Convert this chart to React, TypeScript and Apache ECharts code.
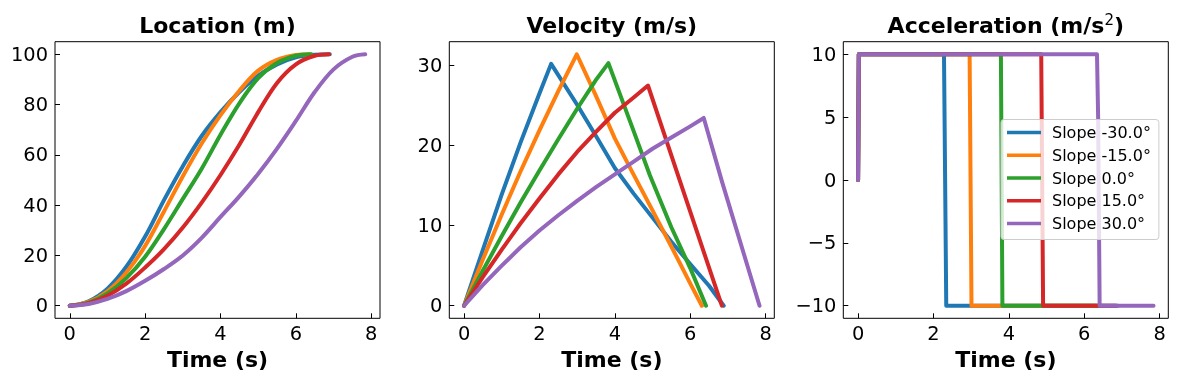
import React, { useEffect, useRef } from 'react';
import * as echarts from 'echarts';

const seriesNames = ['Slope -30.0°', 'Slope -15.0°', 'Slope 0.0°', 'Slope 15.0°', 'Slope 30.0°'];
const colors = ['#1f77b4', '#ff7f0e', '#2ca02c', '#d62728', '#9467bd'];

const titles = ['Location (m)', 'Velocity (m/s)', '{b|Acceleration (m/s}{sup|2}{b|)}'];
const xTicks = [0, 2, 4, 6, 8];
const locTicks = [0, 20, 40, 60, 80, 100];
const velTicks = [0, 10, 20, 30];
const accTicks = [-10, -5, 0, 5, 10];

// Location (m)
const locT1 = [0, 0.5, 1, 1.5, 2, 2.5, 3, 3.5, 4, 4.5, 5, 5.5, 6, 6.5, 6.9];
const locV1 = [0, 1.8, 6.8, 15.5, 27.5, 42.0, 55.5, 67.5, 77.0, 85.0, 91.5, 96.0, 98.8, 99.8, 100];
const locT2 = [0, 0.5, 1, 1.5, 2, 2.5, 3, 3.5, 4, 4.5, 5, 5.5, 6, 6.38];
const locV2 = [0, 1.5, 5.7, 13.2, 23.8, 37.5, 51.5, 64.5, 75.8, 85.5, 93.5, 97.8, 99.7, 100];
const locT3 = [0, 0.5, 1, 1.5, 2, 2.5, 3, 3.5, 4, 4.5, 5, 5.5, 6, 6.41];
const locV3 = [0, 1.2, 4.9, 11.0, 19.5, 30.5, 42.5, 54.5, 68.0, 80.5, 90.5, 96.5, 99.4, 100];
const locT4 = [0, 0.5, 1, 1.5, 2, 2.5, 3, 3.5, 4, 4.5, 5, 5.5, 6, 6.5, 6.88];
const locV4 = [0, 1.0, 4.0, 8.8, 15.2, 22.5, 31.1, 41.0, 52.0, 64.0, 77.0, 88.6, 96.0, 99.4, 100];
const locT5 = [0, 0.5, 1, 1.5, 2, 2.5, 3, 3.5, 4, 4.5, 5, 5.5, 6, 6.5, 7, 7.5, 7.84];
const locV5 = [0, 0.7, 2.7, 5.8, 9.9, 14.6, 20.0, 27.0, 35.3, 43.5, 52.5, 62.5, 73.5, 85.0, 94.0, 99.0, 100];

// Velocity (m/s)
const velT1 = [0, 0.5, 1, 1.5, 2, 2.31, 3, 3.5, 4, 4.5, 5, 5.5, 6, 6.5, 6.89];
const velV1 = [0, 7.0, 13.9, 20.4, 26.5, 30.2, 25.1, 21.2, 17.2, 14.0, 11.0, 8.0, 5.2, 2.5, 0];
const velT2 = [0, 0.5, 1, 1.5, 2, 2.5, 2.99, 3.5, 4, 4.45, 5, 5.5, 6, 6.31];
const velV2 = [0, 5.8, 11.4, 16.8, 21.9, 26.8, 31.4, 26.2, 20.9, 16.8, 11.9, 7.4, 2.8, 0];
const velT3 = [0, 0.5, 1, 1.5, 2, 2.5, 3, 3.5, 3.83, 4.5, 4.93, 5.5, 6, 6.42];
const velV3 = [0, 4.4, 8.7, 12.9, 16.9, 20.8, 24.6, 28.2, 30.3, 21.8, 16.3, 9.8, 4.7, 0];
const velT4 = [0, 0.5, 1, 1.5, 2, 2.5, 3, 3.5, 4, 4.5, 4.88, 5.74, 6.84];
const velV4 = [0, 3.6, 7.0, 10.3, 13.4, 16.4, 19.2, 21.7, 24.1, 26.0, 27.5, 15.4, 0];
const velT5 = [0, 0.5, 1, 1.5, 2, 2.5, 3, 3.5, 4, 4.5, 5, 5.5, 6, 6.36, 6.85, 7.84];
const velV5 = [0, 2.6, 5.0, 7.3, 9.4, 11.3, 13.1, 14.8, 16.4, 18.0, 19.6, 21.0, 22.4, 23.45, 15.4, 0];

// Acceleration (m/s^2)
const accT1 = [0, 0.02, 2.28, 2.34, 6.89];
const accV1 = [0, 10, 10, -10, -10];
const accT2 = [0, 0.02, 2.96, 3.01, 6.31];
const accV2 = [0, 10, 10, -10, -10];
const accT3 = [0, 0.02, 3.79, 3.83, 6.42];
const accV3 = [0, 10, 10, -10, -10];
const accT4 = [0, 0.02, 4.86, 4.91, 6.84];
const accV4 = [0, 10, 10, -10, -10];
const accT5 = [0, 0.02, 6.34, 6.37, 6.41, 7.84];
const accV5 = [0, 10, 10, 5, -10, -10];

const locData = [[locT1, locV1], [locT2, locV2], [locT3, locV3], [locT4, locV4], [locT5, locV5]];
const velData = [[velT1, velV1], [velT2, velV2], [velT3, velV3], [velT4, velV4], [velT5, velV5]];
const accData = [[accT1, accV1], [accT2, accV2], [accT3, accV3], [accT4, accV4], [accT5, accV5]];

const FONT = 'DejaVu Sans';
const gridLefts = [55, 449.3, 843.3];
const gridWidth = 325;
const gridTop = 41.7;
const gridHeight = 276.6;

const fmt = (v: number) => (v < 0 ? '\u2212' + Math.abs(v) : String(v));

export default function App() {
  const ref = useRef<HTMLDivElement>(null);
  useEffect(() => {
    if (!ref.current) return;
    const chart = echarts.init(ref.current, undefined, { renderer: 'svg' });
    const yRanges = [
      { min: -5, max: 105, ticks: locTicks },
      { min: -1.57, max: 32.97, ticks: velTicks },
      { min: -11, max: 11, ticks: accTicks },
    ];
    const grids = gridLefts.map((l) => ({
      left: l,
      top: gridTop,
      width: gridWidth,
      height: gridHeight,
      show: true,
      borderColor: '#000',
      borderWidth: 1,
      backgroundColor: 'transparent',
    }));
    const xAxes = gridLefts.map((_, i) => ({
      type: 'value',
      gridIndex: i,
      position: 'bottom',
      min: -0.392,
      max: 8.232,
      name: 'Time (s)',
      nameLocation: 'middle',
      nameGap: 25,
      nameTextStyle: { fontFamily: FONT, fontSize: 22, fontWeight: 'bold', color: '#000' },
      axisLine: { show: false, onZero: false },
      splitLine: { show: false },
      axisTick: { show: true, inside: true, length: 5, customValues: xTicks, lineStyle: { color: '#000', width: 1 } },
      axisLabel: { customValues: xTicks, margin: 6, fontFamily: FONT, fontSize: 19.4, color: '#000', formatter: fmt },
    }));
    const yAxes = yRanges.map((r, i) => ({
      type: 'value',
      gridIndex: i,
      position: 'left',
      min: r.min,
      max: r.max,
      axisLine: { show: false, onZero: false },
      splitLine: { show: false },
      axisTick: { show: true, inside: true, length: 5, customValues: r.ticks, lineStyle: { color: '#000', width: 1 } },
      axisLabel: { customValues: r.ticks, margin: 7, fontFamily: FONT, fontSize: 19.4, color: '#000', formatter: fmt },
    }));
    const series: any[] = [];
    const groups = [locData, velData, accData];
    groups.forEach((g, gi) => {
      g.forEach(([ts, vs], si) => {
        series.push({
          type: 'line',
          name: seriesNames[si],
          xAxisIndex: gi,
          yAxisIndex: gi,
          data: ts.map((t, k) => [t, vs[k]]),
          showSymbol: false,
          symbol: 'none',
          smooth: gi === 0 ? 0.35 : false,
          lineStyle: { color: colors[si], width: 4, cap: 'round', join: 'round' },
          itemStyle: { color: colors[si] },
          z: 2 + si,
        });
      });
    });
    const titleCenters = gridLefts.map((l) => l + gridWidth / 2);
    chart.setOption({
      animation: false,
      title: titles.map((t, i) => ({
        text: t,
        left: titleCenters[i],
        top: 12,
        textAlign: 'center',
        padding: 0,
        textStyle: {
          fontFamily: FONT,
          fontSize: 22,
          fontWeight: 'bold',
          color: '#000',
          lineHeight: 26,
          rich: {
            b: { fontFamily: FONT, fontSize: 22, fontWeight: 'bold', color: '#000', lineHeight: 26 },
            sup: { fontFamily: FONT, fontSize: 15, fontWeight: 'normal', color: '#000', lineHeight: 15, verticalAlign: 'top' },
          },
        },
      })),
      grid: grids,
      xAxis: xAxes,
      yAxis: yAxes,
      legend: {
        data: seriesNames.map((n) => ({ name: n, icon: 'rect' })),
        orient: 'vertical',
        left: 1001,
        top: 119.5,
        itemWidth: 34,
        itemHeight: 3.5,
        itemGap: 4.75,
        padding: [4, 8, 7, 6],
        backgroundColor: 'rgba(255,255,255,0.8)',
        borderColor: '#cccccc',
        borderWidth: 1,
        borderRadius: 3,
        z: 20,
        selectedMode: false,
        textStyle: { fontFamily: FONT, fontSize: 16, color: '#000', lineHeight: 18, padding: [0, 0, 0, 6] },
      },
      series,
    });
    return () => chart.dispose();
  }, []);
  return <div ref={ref} style={{ position: 'fixed', left: 0, top: 0, width: 1178, height: 378 }} />;
}
